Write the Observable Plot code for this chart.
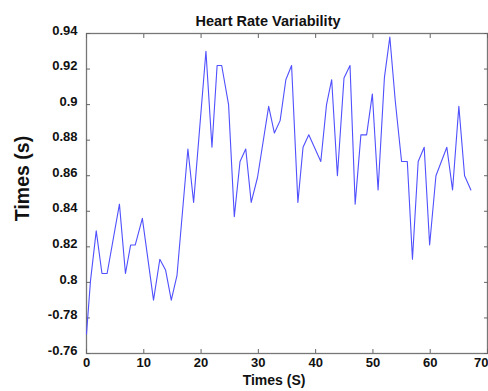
<!DOCTYPE html>
<html>
<head>
<meta charset="utf-8">
<script src="https://cdn.jsdelivr.net/npm/d3@7"></script>
<script src="https://cdn.jsdelivr.net/npm/@observablehq/plot@0.6"></script>
<style>
  html, body { margin: 0; padding: 0; background: #fff; }
  svg { display: block; }
</style>
</head>
<body>
<div id="chart"></div>
<script>
const times = [0, 0.7, 1.7, 2.7, 3.6, 5.75, 6.8, 7.7, 8.5, 9.75, 11.7, 12.8, 13.8, 14.8, 15.8, 17.7, 18.7, 20.85, 21.9, 22.8, 23.6, 24.8, 25.8, 26.8, 27.8, 28.75, 29.85, 31.8, 32.8, 33.8, 34.8, 35.8, 36.9, 37.8, 38.8, 40.9, 41.9, 42.8, 43.8, 44.95, 46.0, 46.9, 47.9, 48.9, 49.9, 50.9, 52.0, 52.95, 53.9, 55.0, 56.0, 56.9, 57.9, 58.95, 59.9, 61.0, 62.9, 63.9, 65.0, 66.0, 67.1];
const intervals = [0.771, 0.801, 0.829, 0.805, 0.805, 0.844, 0.805, 0.821, 0.821, 0.836, 0.790, 0.813, 0.807, 0.790, 0.804, 0.875, 0.845, 0.930, 0.876, 0.922, 0.922, 0.900, 0.837, 0.868, 0.875, 0.845, 0.859, 0.899, 0.884, 0.891, 0.914, 0.922, 0.845, 0.876, 0.883, 0.868, 0.900, 0.914, 0.860, 0.915, 0.922, 0.844, 0.883, 0.883, 0.906, 0.852, 0.915, 0.938, 0.902, 0.868, 0.868, 0.813, 0.868, 0.876, 0.821, 0.860, 0.876, 0.852, 0.899, 0.860, 0.852];
const xTicks = [0, 10, 20, 30, 40, 50, 60, 70];
const yTicks = [0.94, 0.92, 0.90, 0.88, 0.86, 0.84, 0.82, 0.80, 0.78, 0.76];
const yTickLabels = ["0.94", "0.92", "0.9", "0.88", "0.86", "0.84", "0.82", "0.8", "-0.78", "-0.76"];
const title = "Heart Rate Variability";
const xLabel = "Times (S)";
const yLabel = "Times (s)";

const data = times.map((t, i) => ({t, v: intervals[i]}));
const labelOf = new Map(yTicks.map((v, i) => [v.toFixed(2), yTickLabels[i]]));
const lastX = xTicks[xTicks.length - 1];
const innerXTicks = xTicks.slice(0, -1);

const font = "Liberation Sans, Arial, Helvetica, sans-serif";

const chart = Plot.plot({
  width: 488,
  height: 391,
  marginLeft: 86,
  marginRight: 1,
  marginTop: 33,
  marginBottom: 38,
  style: {fontFamily: font, background: "#fff"},
  x: {domain: [0, 70]},
  y: {domain: [0.76, 0.94]},
  marks: [
    Plot.frame({stroke: "#777", strokeWidth: 1.3}),
    // inward ticks
    Plot.axisX({anchor: "bottom", ticks: xTicks, tickSize: -4, tickFormat: () => "", stroke: "#666", label: null}),
    Plot.axisX({anchor: "top", ticks: xTicks, tickSize: -4, tickFormat: () => "", stroke: "#666", label: null}),
    Plot.axisY({anchor: "left", ticks: yTicks, tickSize: -4, tickFormat: () => "", stroke: "#666", label: null}),
    Plot.axisY({anchor: "right", ticks: yTicks, tickSize: -4, tickFormat: () => "", stroke: "#666", label: null}),
    // tick labels
    Plot.axisX({anchor: "bottom", ticks: innerXTicks, tickSize: 0, tickPadding: 4, fontSize: 13, fontWeight: "bold", fill: "#111", label: null}),
    Plot.axisX({anchor: "bottom", ticks: [lastX], tickSize: 0, tickPadding: 4, textAnchor: "end", dx: 1, fontSize: 13, fontWeight: "bold", fill: "#111", label: null}),
    Plot.axisY({anchor: "left", ticks: yTicks, tickSize: 0, tickPadding: 9, dy: -3, fontSize: 13, fontWeight: "bold", fill: "#111", tickFormat: d => labelOf.get(d.toFixed(2)), label: null}),
    Plot.line(data, {x: "t", y: "v", stroke: "#5050ff", strokeWidth: 1.1}),
    Plot.text([title], {frameAnchor: "top", dx: -19, dy: -18, fontSize: 14.5, fontWeight: "bold", fill: "#111"}),
    Plot.text([xLabel], {frameAnchor: "bottom", dx: -13, dy: 31, fontSize: 14, fontWeight: "bold", fill: "#111"}),
    Plot.text([yLabel], {frameAnchor: "left", textAnchor: "middle", dx: -64, dy: -15, rotate: -90, fontSize: 19.5, fontWeight: "bold", fill: "#111"})
  ]
});
document.getElementById("chart").appendChild(chart);
</script>
</body>
</html>
